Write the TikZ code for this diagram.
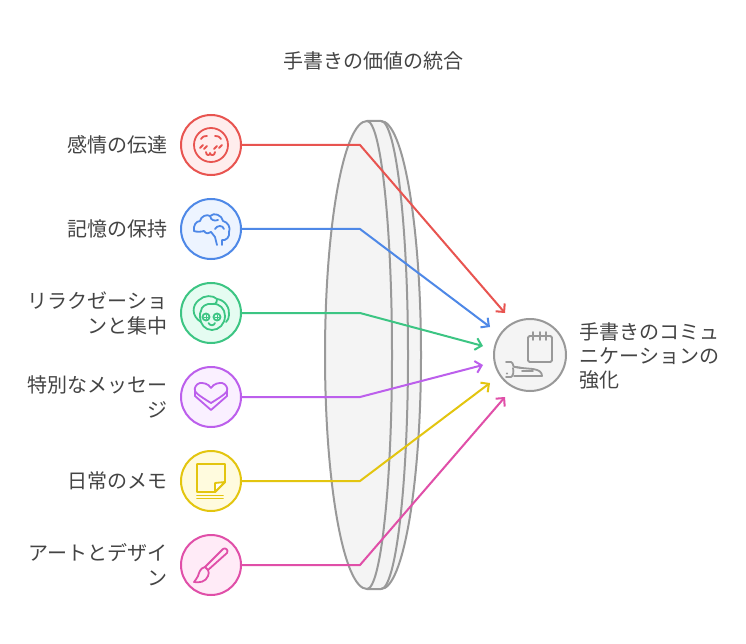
\documentclass[tikz,border=0pt]{standalone}
\usepackage{fontspec}
\setmainfont{Noto Sans CJK JP}
\usetikzlibrary{arrows.meta}
\definecolor{txt}{HTML}{444444}
\definecolor{cR}{HTML}{E85450}\definecolor{fR}{HTML}{FFEDED}
\definecolor{cB}{HTML}{4E88E7}\definecolor{fB}{HTML}{EDF4FF}
\definecolor{cG}{HTML}{3CC583}\definecolor{fG}{HTML}{E5FCF1}
\definecolor{cP}{HTML}{BC5FEC}\definecolor{fP}{HTML}{FAF0FF}
\definecolor{cY}{HTML}{E3C50F}\definecolor{fY}{HTML}{FFFBDE}
\definecolor{cK}{HTML}{E04FA8}\definecolor{fK}{HTML}{FFEBF7}
\definecolor{cN}{HTML}{999999}\definecolor{fN}{HTML}{F4F4F4}
\tikzset{
  x=1pt,y=-1pt,
  lab/.style={text=txt,inner sep=0pt,font=\fontsize{20}{25}\selectfont},
  leftlab/.style={lab,anchor=east,align=right},
  disc/.style 2 args={circle,draw=#1,fill=#2,line width=2pt,minimum size=60pt,inner sep=0pt},
  conn/.style={draw=#1,line width=2pt,line join=round,-{Straight Barb[length=6pt,width=12pt,line width=2pt]}},
  icon/.style={draw=#1,line width=1.8pt,line cap=round,line join=round},
  lens/.style={draw=cN,line width=2pt,line join=round}
}
\begin{document}
\begin{tikzpicture}
\useasboundingbox (0,0) rectangle (746,644);
\fill[white] (0,0) rectangle (746,644);
% lens
\path[lens,fill=fN] (367,121) .. controls (343.8,121) and (325,225.8) .. (325,355)
  .. controls (325,484.2) and (343.8,589) .. (367,589) -- (381,589)
  .. controls (403.1,589) and (421,484.2) .. (421,355)
  .. controls (421,225.8) and (403.1,121) .. (381,121) -- cycle;
\path[lens] (367,121) .. controls (380.8,121) and (392,225.8) .. (392,355)
  .. controls (392,484.2) and (380.8,589) .. (367,589);
\path[lens] (381,121) .. controls (395.9,121) and (408,225.8) .. (408,355)
  .. controls (408,484.2) and (395.9,589) .. (381,589);
% title
\node[lab] (title) at (373.5,60.5) {手書きの価値の統合};
% circles
\node[disc={cR}{fR}] (n1) at (211,145) {};
\node[disc={cB}{fB}] (n2) at (211,229) {};
\node[disc={cG}{fG}] (n3) at (211,313) {};
\node[disc={cP}{fP}] (n4) at (211,397) {};
\node[disc={cY}{fY}] (n5) at (211,481) {};
\node[disc={cK}{fK}] (n6) at (211,565) {};
\node[circle,draw=cN,fill=fN,line width=2pt,minimum size=72pt,inner sep=0pt] (hub) at (530,355) {};
% labels
\node[leftlab] (l1) at (167.5,145) {感情の伝達};
\node[leftlab] (l2) at (167.5,229) {記憶の保持};
\node[leftlab] (l3) at (167.5,313) {リラクゼーショ\\ンと集中};
\node[leftlab] (l4) at (167.5,397) {特別なメッセー\\ジ};
\node[leftlab] (l5) at (167.5,481) {日常のメモ};
\node[leftlab] (l6) at (167.5,565) {アートとデザイ\\ン};
\node[lab,anchor=west,align=left,font=\fontsize{20}{24}\selectfont] (rl) at (579.5,355.5) {手書きのコミュ\\ニケーションの\\強化};
% bends and tips
\coordinate (b1) at (360,145); \coordinate (t1) at (505,313);
\coordinate (b2) at (360,229); \coordinate (t2) at (490,327);
\coordinate (b3) at (360,313); \coordinate (t3) at (483,346);
\coordinate (b4) at (360,397); \coordinate (t4) at (483,365);
\coordinate (b5) at (360,481); \coordinate (t5) at (490,383);
\coordinate (b6) at (360,565); \coordinate (t6) at (505,397);
\draw[conn=cR] (n1.east) -- (b1) -- (t1);
\draw[conn=cB] (n2.east) -- (b2) -- (t2);
\draw[conn=cG] (n3.east) -- (b3) -- (t3);
\draw[conn=cP] (n4.east) -- (b4) -- (t4);
\draw[conn=cY] (n5.east) -- (b5) -- (t5);
\draw[conn=cK] (n6.east) -- (b6) -- (t6);
% icon: face
\begin{scope}[shift={(211,145)},icon=cR]
\draw (0,0) circle[radius=17];
\draw (-10,-6) .. controls (-8,-9) and (-6,-9) .. (-4,-9);
\draw (10,-6) .. controls (8,-9) and (6,-9) .. (4,-9);
\draw (-11,3) -- (-8,0); \draw (-7,4) -- (-4,1);
\draw (3,4) -- (6,1); \draw (8,3) -- (11,0);
\draw (-5,7) .. controls (-5,11) and (-1,11) .. (-1,8) .. controls (-1,11) and (4,11) .. (4,7);
\end{scope}
% icon: brain
\begin{scope}[shift={(211,229)},icon=cB]
\draw (-17,2) .. controls (-18,-3) and (-15,-8) .. (-11,-8) .. controls (-10,-13) and (-4,-15) .. (-1,-13)
  .. controls (3,-17) and (11,-14) .. (12,-8) .. controls (17,-7) and (20,-1) .. (18,3)
  .. controls (19,8) and (15,12) .. (11,11) -- (11,16);
\draw (-17,2) .. controls (-15,3) and (-10,3) .. (-7,2) .. controls (-5,5) and (-2,5) .. (0,3);
\draw (0,3) -- (4,8) -- (6,16);
\draw (-1,-13) .. controls (0,-8) and (4,-8) .. (7,-9);
\draw (4,0) .. controls (6,-4) and (12,-4) .. (13,0);
\end{scope}
% icon: cucumber face
\begin{scope}[shift={(211,313)},icon=cG]
\draw (-10,9) .. controls (-20,3) and (-19,-8) .. (-12,-13) .. controls (-7,-18) and (2,-18) .. (6,-14)
  .. controls (14,-13) and (19,-5) .. (18,2) .. controls (18,5) and (17,7) .. (15,9);
\draw (6,-14) .. controls (6,-9) and (3,-8) .. (1,-9) .. controls (-5,-10) and (-10,-6) .. (-10,-2);
\draw (1,-9) .. controls (9,-10) and (14,-4) .. (14,3) .. controls (14,11) and (8,17) .. (1,17)
  .. controls (-6,17) and (-11,11) .. (-11,4) .. controls (-11,1) and (-11,-1) .. (-10,-2);
\draw (-5,4) circle[radius=3.5]; \draw (6,4) circle[radius=3.5];
\draw[line width=1pt] (-7,4) -- (-3,4) (-5,2) -- (-5,6) (4,4) -- (8,4) (6,2) -- (6,6);
\draw (-2.5,10) .. controls (-1,13) and (3,13) .. (4,10);
\end{scope}
% icon: heart
\begin{scope}[shift={(211,397)},icon=cP]
\draw (0,-9) .. controls (-3,-14) and (-8,-14) .. (-11,-14) .. controls (-15,-13) and (-17,-9) .. (-16,-6)
 .. controls (-15,-4) and (-13,-2) .. (0,6) .. controls (13,-2) and (15,-4) .. (16,-6)
 .. controls (17,-9) and (15,-13) .. (11,-14) .. controls (8,-14) and (3,-14) .. (0,-9);
\draw (-16,-6) -- (-16,-1) -- (0,13) -- (16,-1) -- (16,-6);
\end{scope}
% icon: note
\begin{scope}[shift={(211,481)},icon=cY]
\draw (-14,-17) -- (14,-17) -- (14,1) -- (4,11) -- (-14,11) -- cycle;
\draw[fill=white] (4,11) -- (4,2) -- (14,1) -- cycle;
\draw (-14,14.5) -- (12,14.5); \draw (-14,17.5) -- (12,17.5);
\end{scope}
% icon: brush
\begin{scope}[shift={(211,565)},icon=cK]
\draw (-3,5) -- (-6,2) -- (12,-16) .. controls (14,-18) and (18,-15) .. (16,-12) -- cycle;
\draw (-6,2) .. controls (-11,3) and (-12,8) .. (-13,11) .. controls (-14,14) and (-16,15) .. (-17,17)
  .. controls (-12,18) and (-5,17) .. (-3,11) .. controls (-2,9) and (-2,7) .. (-3,5);
\end{scope}
% icon: notebook and hand
\begin{scope}[shift={(530,355)},icon=cN]
\draw[rounded corners=1.5pt] (-2,-19) rectangle (22,7);
\draw (3,-23) -- (3,-15); \draw (10,-23) -- (10,-15); \draw (16,-23) -- (16,-15);
\draw (-24,7) -- (-19,7) .. controls (-16,8) and (-18,12) .. (-15,12) -- (-8,13) -- (3,14)
  .. controls (9,15) and (12,17) .. (12,21) -- (-16,21);
\draw (-15,12) -- (-8,13) (-8,16) -- (3,16);
\draw (-17,13) .. controls (-16,17) and (-17,21) .. (-19,22) -- (-24,22);
\fill[cN] (-23,18.5) circle[radius=1.2];
\end{scope}
\end{tikzpicture}
\end{document}
